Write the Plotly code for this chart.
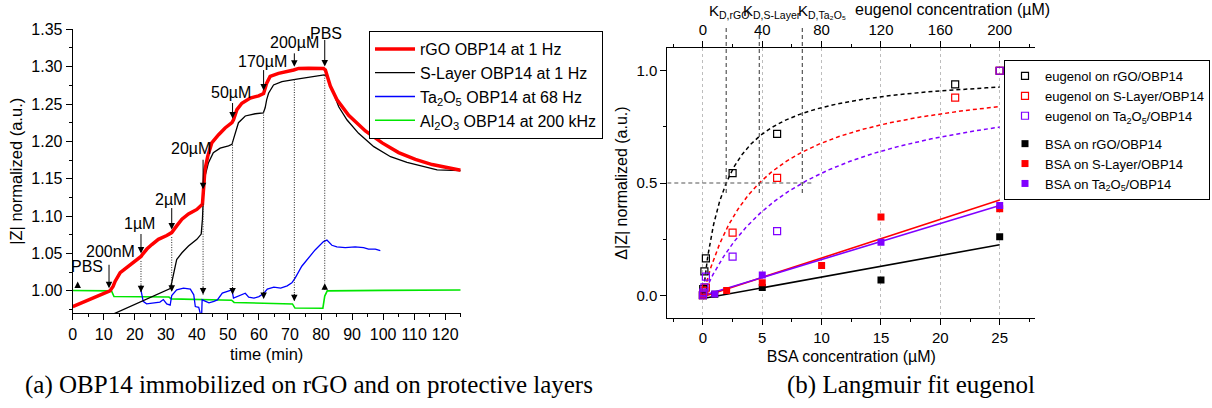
import numpy as np
import plotly.graph_objects as go

W, H = 1212, 408
SANS = "Liberation Sans, Arial, sans-serif"
SERIF = "Liberation Serif, Times New Roman, serif"

# ---------------- panel (a): normalized |Z| versus time ----------------
rgo_t = [0, 12.0, 13.0, 13.7, 15.3, 17.9, 20.6, 22.0, 22.5, 23.9, 25.5, 27.6, 30.3, 31.9,
         33.5, 35.2, 37.3, 40.0, 41.8, 42.1, 42.6, 43.5, 44.8, 47.0, 49.1, 51.3, 51.8, 52.9,
         54.5, 57.2, 59.9, 61.5, 62.5, 63.6, 66.3, 71.2, 72.8, 76.0, 80.8, 81.4, 82.2, 83.0,
         85.1, 88.9, 94.3, 99.7, 105.0, 110.4, 115.8, 121.1, 125.0]
rgo_z = [0.979, 1.000, 1.006, 1.013, 1.0245, 1.033, 1.041, 1.046, 1.049, 1.056, 1.062, 1.069,
         1.074, 1.078, 1.087, 1.096, 1.103, 1.109, 1.116, 1.140, 1.162, 1.180, 1.198, 1.209,
         1.218, 1.225, 1.229, 1.2425, 1.251, 1.258, 1.261, 1.264, 1.278, 1.287, 1.291, 1.2955,
         1.2977, 1.298, 1.2977, 1.2955, 1.285, 1.274, 1.256, 1.235, 1.214, 1.198, 1.185,
         1.176, 1.169, 1.164, 1.1615]

slayer_t = [12.0, 31.4, 31.9, 32.5, 33.5, 35.2, 37.3, 40.0, 41.4, 41.8, 42.1, 42.6, 43.7, 45.3,
            47.5, 50.2, 51.3, 51.8, 52.4, 53.4, 55.6, 58.8, 61.4, 62.0, 62.5, 63.1, 64.7, 67.4,
            71.7, 77.1, 81.0, 81.9, 83.5, 85.7, 88.4, 92.1, 97.0, 102.4, 107.7, 113.1, 117.4,
            125.0]
slayer_z = [0.967, 1.003, 1.011, 1.0245, 1.042, 1.051, 1.060, 1.069, 1.076, 1.096, 1.127,
            1.153, 1.171, 1.185, 1.191, 1.194, 1.196, 1.203, 1.211, 1.225, 1.234, 1.237, 1.238,
            1.245, 1.256, 1.2645, 1.2755, 1.280, 1.283, 1.286, 1.289, 1.287, 1.269, 1.2464,
            1.2286, 1.2108, 1.193, 1.1795, 1.172, 1.166, 1.162, 1.161]

ta2o5_t = [22.0, 22.7, 23.8, 25.9, 28.1, 29.2, 30.3, 31.4, 31.9, 33.5, 35.7, 37.9, 39.0, 39.5,
           40.6, 41.1, 41.5, 41.7, 42.8, 43.9, 45.5, 46.6, 48.2, 49.7, 51.3, 51.8, 53.5, 55.6,
           56.7, 58.4, 60.0, 61.6, 62.7, 64.8, 67.0, 69.1, 70.6, 71.7, 73.8, 76.0, 78.1, 80.8,
           81.9, 83.5, 85.1, 87.8, 91.0, 93.7, 95.3, 97.5, 99.1]
ta2o5_z = [1.001, 0.986, 0.9826, 0.984, 0.985, 0.9884, 0.9826, 0.981, 0.9937, 1.0013, 1.0036,
           1.0023, 0.9947, 0.979, 0.978, 0.970, 0.962, 0.988, 0.986, 0.984, 0.986, 0.988,
           0.997, 0.9991, 1.0013, 0.9902, 0.993, 0.9969, 0.9917, 0.9902, 0.9924, 0.9969,
           1.0023, 1.005, 1.0036, 1.0067, 1.0107, 1.0174, 1.033, 1.044, 1.0548, 1.066, 1.068,
           1.061, 1.059, 1.058, 1.059, 1.058, 1.056, 1.056, 1.054]

al2o3_t = [0, 12.5, 13.3, 31.0, 31.8, 51.2, 52.0, 70.8, 71.6, 80.6, 81.2, 82.0, 100.0, 125.0]
al2o3_z = [1.0005, 1.0, 0.9925, 0.9918, 0.9893, 0.9875, 0.9845, 0.9825, 0.977, 0.9768, 0.993,
           1.0, 1.0007, 1.0012]

# analyte additions (time in min)
add_t = [11.7, 22.0, 31.9, 42.0, 51.5, 61.5, 71.4, 81.2]
add_label = ["200nM", "1µM", "2µM", "20µM", "50µM", "170µM", "200µM", "PBS"]
# level of the lower marker of each addition (None: no lower marker)
add_low = [None, 0.998, 0.999, 0.995, 0.995, 0.989, 0.986, 1.0103]
first_pbs_t = 1.6
first_pbs_z = 1.0124

# annotation geometry in pixels (arrow length, label rise, label shift)
arrow_len = [28, 24, 26, 34, 20, 25, 18, 31]
label_rise = [40, 33, 33, 44, 29, 32, 27, 36]
label_dx = [1, -1, -1, -12, -2, -1, 0, 1]

# ---------------- panel (b): Langmuir fit ----------------
eug_conc = [0, 0.2, 1, 2, 20, 50, 170, 200]
eug_rgo = [0, 0.027, 0.106, 0.164, 0.544, 0.719, 0.939, 1.0]
eug_slayer = [0, 0.008, 0.02, 0.034, 0.279, 0.523, 0.880, 1.0]
eug_ta2o5 = [0, 0.012, 0.035, 0.083, 0.172, 0.286, None, 1.0]

kd_names = ["rGO", "S-Layer", "Ta₂O₅"]
kd_values = [15.7, 38.0, 67.0]

bsa_rgo_c = [0, 1, 5, 15, 25]
bsa_rgo = [0, 0.004, 0.034, 0.068, 0.261]
bsa_slayer_c = [0, 2, 5, 10, 15, 25]
bsa_slayer = [0, 0.021, 0.056, 0.133, 0.348, 0.385]
bsa_ta2o5_c = [0, 1, 5, 15, 25]
bsa_ta2o5 = [0, 0.006, 0.090, 0.236, 0.400]

for a, b in [(rgo_t, rgo_z), (slayer_t, slayer_z), (ta2o5_t, ta2o5_z), (al2o3_t, al2o3_z)]:
    assert len(a) == len(b)

RED, BLACK, BLUE, GREEN, PURPLE = "#ff0000", "#000000", "#0000ff", "#00e600", "#8000ff"

# subplot geometry (pixels)
LX0, LX1, LY0, LY1 = 72.7, 460.7, 29.3, 313.3
RX0, RX1, RY0, RY1 = 667.3, 1035.3, 48.3, 317.7
Y2_RANGE = [-0.1, 1.1]


def pxx(p):
    return p / W


def pxy(p):
    return 1 - p / H


def y2_paper(v):
    f = (v - Y2_RANGE[0]) / (Y2_RANGE[1] - Y2_RANGE[0])
    return pxy(RY1) + f * (pxy(RY0) - pxy(RY1))


fig = go.Figure()

# panel (a) traces, red drawn last so it sits on top
fig.add_trace(go.Scatter(x=al2o3_t, y=al2o3_z, mode="lines", line=dict(color=GREEN, width=1.6),
                         name="Al<sub>2</sub>O<sub>3</sub> OBP14 at 200 kHz", legendrank=4,
                         xaxis="x", yaxis="y", legend="legend"))
fig.add_trace(go.Scatter(x=ta2o5_t, y=ta2o5_z, mode="lines", line=dict(color=BLUE, width=1.3),
                         name="Ta<sub>2</sub>O<sub>5</sub> OBP14 at 68 Hz", legendrank=3,
                         xaxis="x", yaxis="y", legend="legend"))
fig.add_trace(go.Scatter(x=slayer_t, y=slayer_z, mode="lines", line=dict(color=BLACK, width=1.3),
                         name="S-Layer OBP14 at 1 Hz", legendrank=2,
                         xaxis="x", yaxis="y", legend="legend"))
fig.add_trace(go.Scatter(x=rgo_t, y=rgo_z, mode="lines", line=dict(color=RED, width=3.5),
                         name="rGO OBP14 at 1 Hz", legendrank=1,
                         xaxis="x", yaxis="y", legend="legend"))

# panel (b): Langmuir fits on the eugenol axis
c_fit = np.linspace(0, 200, 400)
for kd, col in zip(kd_values, [BLACK, RED, PURPLE]):
    fig.add_trace(go.Scatter(x=c_fit, y=c_fit / (kd + c_fit), mode="lines",
                             line=dict(color=col, width=1.5, dash="4px,3px"),
                             showlegend=False, hoverinfo="skip", xaxis="x3", yaxis="y2"))

# linear fits of the BSA response
b_fit = np.array([0.0, 25.0])
for cx, cy, col in [(bsa_rgo_c, bsa_rgo, BLACK), (bsa_slayer_c, bsa_slayer, RED),
                    (bsa_ta2o5_c, bsa_ta2o5, PURPLE)]:
    k, d = np.polyfit(cx, cy, 1)
    fig.add_trace(go.Scatter(x=b_fit, y=k * b_fit + d, mode="lines", line=dict(color=col, width=1.6),
                             showlegend=False, hoverinfo="skip", xaxis="x2", yaxis="y2"))

eug_sets = [("eugenol on rGO/OBP14", eug_rgo, BLACK),
            ("eugenol on S-Layer/OBP14", eug_slayer, RED),
            ("eugenol on Ta<sub>2</sub>O<sub>5</sub>/OBP14", eug_ta2o5, PURPLE)]
for name, vals, col in eug_sets:
    fig.add_trace(go.Scatter(x=eug_conc, y=vals, mode="markers", name=name,
                             marker=dict(symbol="square-open", size=7, color=col, line=dict(width=1.2)),
                             legendgroup="eug", xaxis="x3", yaxis="y2", legend="legend2"))

bsa_sets = [("BSA on rGO/OBP14", bsa_rgo_c, bsa_rgo, BLACK),
            ("BSA on S-Layer/OBP14", bsa_slayer_c, bsa_slayer, RED),
            ("BSA on Ta<sub>2</sub>O<sub>5</sub>/OBP14", bsa_ta2o5_c, bsa_ta2o5, PURPLE)]
for name, cx, cy, col in bsa_sets:
    fig.add_trace(go.Scatter(x=cx, y=cy, mode="markers", name=name,
                             marker=dict(symbol="square", size=7, color=col),
                             legendgroup="bsa", xaxis="x2", yaxis="y2", legend="legend2"))

# ---------------- annotations and guide lines ----------------
annotations = []
shapes = []
arrow_style = dict(showarrow=True, arrowhead=2, arrowsize=1.3, arrowwidth=1, arrowcolor="black",
                   text="", xref="x", yref="y", ax=0)
font16 = dict(family=SANS, size=16, color="black")
centered = dict(xanchor="center", yanchor="middle", showarrow=False)

for i, t in enumerate(add_t):
    z_top = float(np.interp(t, rgo_t, rgo_z))
    annotations.append(dict(x=t, y=z_top, ay=-arrow_len[i], standoff=3, **arrow_style))
    annotations.append(dict(x=t, y=z_top, xref="x", yref="y", text=add_label[i],
                            xshift=label_dx[i], yshift=label_rise[i], font=font16, **centered))
    low = add_low[i]
    if low is None:
        continue
    z_black = float(np.interp(t, slayer_t, slayer_z))
    start = z_black if z_black > 1.05 else z_top - 0.006
    shapes.append(dict(type="line", xref="x", yref="y", x0=t, x1=t, y0=start, y1=low,
                       line=dict(color="#222222", width=1, dash="1px,1.5px")))
    if add_label[i] == "PBS":
        annotations.append(dict(x=t, y=low, ay=8, **arrow_style))
    else:
        annotations.append(dict(x=t, y=low, ay=-9, **arrow_style))

annotations.append(dict(x=first_pbs_t, y=first_pbs_z, ay=7, **arrow_style))
annotations.append(dict(x=first_pbs_t, y=first_pbs_z, xref="x", yref="y", text="PBS",
                        xshift=9, yshift=15, font=font16, **centered))

# dissociation constants
kd_dx = [3, 13, 20]
for kd, nm, dx in zip(kd_values, kd_names, kd_dx):
    shapes.append(dict(type="line", xref="x3", yref="paper", x0=kd, x1=kd,
                       y0=y2_paper(0.455), y1=pxy(27),
                       line=dict(color="#555555", width=1.2, dash="4px,3px")))
    annotations.append(dict(x=kd, y=pxy(11), xref="x3", yref="paper", xshift=dx,
                            text=f"K<sub>D,{nm}</sub>",
                            font=dict(family=SANS, size=15, color="black"), **centered))
shapes.append(dict(type="line", xref="x3", yref="y2", x0=-24, x1=max(kd_values) * 1.1,
                   y0=0.5, y1=0.5, line=dict(color="#555555", width=1.2, dash="4px,3px")))

annotations.append(dict(x=pxx(952), y=pxy(9.5), xref="paper", yref="paper",
                        text="eugenol concentration (µM)", font=font16, **centered))

# captions
caption_font = dict(family=SERIF, size=25, color="black")
annotations.append(dict(x=pxx(308.5), y=pxy(385), xref="paper", yref="paper",
                        text="(a) OBP14 immobilized on rGO and on protective layers",
                        font=caption_font, **centered))
annotations.append(dict(x=pxx(911), y=pxy(385), xref="paper", yref="paper",
                        text="(b) Langmuir fit eugenol", font=caption_font, **centered))

axis_common = dict(showline=True, linecolor="black", linewidth=1, ticks="outside", ticklen=6,
                   tickwidth=1, tickcolor="black", zeroline=False, mirror=False, automargin=False,
                   tickfont=dict(family=SANS, size=16, color="black"))


def minor(dt):
    return dict(dtick=dt, ticks="outside", ticklen=3, tickwidth=1, tickcolor="black", showgrid=False)


fig.update_layout(
    width=W, height=H, margin=dict(l=0, r=0, t=0, b=0, pad=0, autoexpand=False),
    paper_bgcolor="white", plot_bgcolor="white",
    font=dict(family=SANS, size=16, color="black"),
    xaxis=dict(domain=[pxx(LX0), pxx(LX1)], anchor="y", range=[0, 125], dtick=10, tick0=0,
               showgrid=False, minor=minor(5),
               title=dict(text="time (min)", font=dict(family=SANS, size=16.5), standoff=6),
               **axis_common),
    yaxis=dict(domain=[pxy(LY1), pxy(LY0)], anchor="x", range=[0.97, 1.35], dtick=0.05,
               tick0=1.0, tickformat=".2f", showgrid=False, minor=minor(0.025),
               title=dict(text="|Z| normalized (a.u.)", font=dict(family=SANS, size=16.5), standoff=4),
               **axis_common),
    xaxis2=dict(domain=[pxx(RX0), pxx(RX1)], anchor="y2", range=[-3, 28], dtick=5, tick0=0,
                showgrid=True, gridcolor="#bdbdbd", gridwidth=1, griddash="dot", minor=minor(2.5),
                title=dict(text="BSA concentration (µM)", font=dict(family=SANS, size=16), standoff=6),
                **{**axis_common, "tickfont": dict(family=SANS, size=15, color="black")}),
    yaxis2=dict(domain=[pxy(RY1), pxy(RY0)], anchor="x2", range=Y2_RANGE, dtick=0.5, tick0=0,
                tickformat=".1f", showgrid=False, minor=minor(0.25),
                title=dict(text="Δ|Z| normalized (a.u.)", font=dict(family=SANS, size=16), standoff=4),
                **{**axis_common, "tickfont": dict(family=SANS, size=15, color="black")}),
    xaxis3=dict(overlaying="x2", side="top", anchor="y2", range=[-24, 224], dtick=40, tick0=0,
                showgrid=False, minor=minor(20),
                **{**axis_common, "tickfont": dict(family=SANS, size=15, color="black")}),
    legend=dict(x=pxx(369), y=pxy(31), xanchor="left", yanchor="top", bgcolor="white",
                bordercolor="black", borderwidth=1, itemwidth=40,
                font=dict(family=SANS, size=16, color="black"), tracegroupgap=0),
    legend2=dict(x=pxx(1004), y=pxy(60), xanchor="left", yanchor="top", bgcolor="white",
                 bordercolor="black", borderwidth=1, traceorder="grouped", tracegroupgap=8,
                 itemwidth=30, font=dict(family=SANS, size=13, color="black")),
    annotations=annotations,
    shapes=shapes,
)

fig.write_html("out.html")
